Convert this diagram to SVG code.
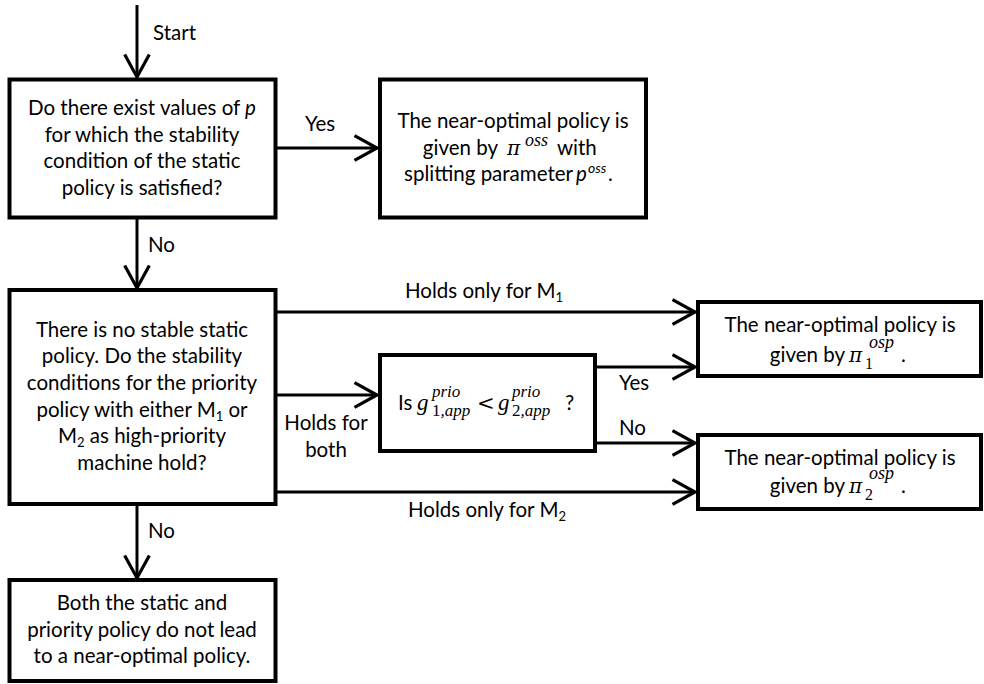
<svg xmlns="http://www.w3.org/2000/svg" width="984" height="684" viewBox="0 0 984 684">
<defs>
<style>
svg{font-family:Lato,"Open Sans","Liberation Sans",sans-serif;font-size:20.5px}
text{fill:#000}
.box{fill:#fff;stroke:#000;stroke-width:4}
.con{fill:none;stroke:#000;stroke-width:3}
.c{text-anchor:middle}
.m{font-family:"Liberation Serif","DejaVu Serif",serif;font-style:italic}
.pi{font-family:"DejaVu Serif","Liberation Serif",serif;font-style:italic;font-size:20px}
.s{font-size:13px}
</style>
<marker id="ah" markerUnits="userSpaceOnUse" markerWidth="30" markerHeight="30" viewBox="-24 -14 28 28" refX="0" refY="0" orient="auto">
<path d="M-21,-11.5 L0,0 L-21,11.5" fill="none" stroke="#000" stroke-width="3" stroke-linejoin="miter"/>
</marker>
</defs>
<rect width="984" height="684" fill="#fff"/>
<g id="connectors">
<path class="con" d="M137,5 V77" marker-end="url(#ah)"/>
<path class="con" d="M277,148 H377" marker-end="url(#ah)"/>
<path class="con" d="M137,219 V288" marker-end="url(#ah)"/>
<path class="con" d="M277,312 H695" marker-end="url(#ah)"/>
<path class="con" d="M277,395 H377" marker-end="url(#ah)"/>
<path class="con" d="M277,492 H695" marker-end="url(#ah)"/>
<path class="con" d="M597,367 H695" marker-end="url(#ah)"/>
<path class="con" d="M597,443 H695" marker-end="url(#ah)"/>
<path class="con" d="M137,506 V578" marker-end="url(#ah)"/>
<text x="153" y="40">Start</text>
<text x="305" y="131">Yes</text>
<text x="148" y="252">No</text>
<text class="c" x="484" y="298">Holds only for M<tspan class="s" dy="4">1</tspan></text>
<text class="c" x="326" y="430">Holds for</text>
<text class="c" x="326" y="457">both</text>
<text x="619" y="390">Yes</text>
<text x="619" y="435">No</text>
<text class="c" x="487" y="517">Holds only for M<tspan class="s" dy="4">2</tspan></text>
<text x="148" y="538">No</text>
</g>
<g id="n1">
<rect class="box" x="9.5" y="79.5" width="266" height="138"/>
<text class="c" x="142" y="115">Do there exist values of <tspan font-style="italic">p</tspan></text>
<text class="c" x="142" y="142">for which the stability</text>
<text class="c" x="142" y="168">condition of the static</text>
<text class="c" x="142" y="195">policy is satisfied?</text>
</g>
<g id="n2">
<rect class="box" x="380" y="79.5" width="266" height="138"/>
<text class="c" x="513" y="128">The near-optimal policy is</text>
<text x="498" y="155" text-anchor="end">given by</text>
<text class="pi" x="507" y="155">π</text>
<text class="m" x="525" y="146" font-size="18">oss</text>
<text x="557" y="155">with</text>
<text x="573" y="181" text-anchor="end">splitting parameter</text>
<text x="576" y="181" font-style="italic">p</text>
<text x="588" y="173" font-size="14" font-style="italic">oss</text>
<text x="608" y="181">.</text>
</g>
<g id="n3">
<rect class="box" x="9.5" y="290" width="266" height="214"/>
<text class="c" x="142" y="337">There is no stable static</text>
<text class="c" x="142" y="363">policy. Do the stability</text>
<text class="c" x="142" y="390">conditions for the priority</text>
<text class="c" x="142" y="417">policy with either M<tspan class="s" dy="4">1</tspan><tspan dy="-4"> or</tspan></text>
<text class="c" x="142" y="443">M<tspan class="s" dy="4">2</tspan><tspan dy="-4"> as high-priority</tspan></text>
<text class="c" x="142" y="470">machine hold?</text>
</g>
<g id="n4">
<rect class="box" x="380" y="355" width="215" height="96"/>
<text x="398" y="410">Is</text>
<text class="m" x="417" y="410" font-size="23">g</text>
<text class="m" x="432" y="397" font-size="17">prio</text>
<text class="m" x="432" y="416" font-size="17"><tspan font-style="normal">1</tspan>,app</text>
<text x="477" y="410" font-family="DejaVu Serif" font-size="21">&lt;</text>
<text class="m" x="498" y="410" font-size="23">g</text>
<text class="m" x="512" y="397" font-size="17">prio</text>
<text class="m" x="512" y="416" font-size="17"><tspan font-style="normal">2</tspan>,app</text>
<text x="565" y="410">?</text>
</g>
<g id="n5">
<rect class="box" x="698" y="302" width="283" height="74"/>
<text class="c" x="840" y="332">The near-optimal policy is</text>
<text x="845" y="362" text-anchor="end">given by</text>
<text class="pi" x="849" y="362">π</text>
<text class="m" x="869" y="348" font-size="18">osp</text>
<text x="865" y="369" font-size="16" font-family="Liberation Serif">1</text>
<text x="901" y="362">.</text>
</g>
<g id="n6">
<rect class="box" x="698" y="435" width="283" height="74"/>
<text class="c" x="840" y="465">The near-optimal policy is</text>
<text x="845" y="493" text-anchor="end">given by</text>
<text class="pi" x="849" y="493">π</text>
<text class="m" x="869" y="479" font-size="18">osp</text>
<text x="865" y="500" font-size="16" font-family="Liberation Serif">2</text>
<text x="901" y="493">.</text>
</g>
<g id="n7">
<rect class="box" x="9.5" y="580" width="266" height="101"/>
<text class="c" x="142" y="610">Both the static and</text>
<text class="c" x="142" y="637">priority policy do not lead</text>
<text class="c" x="142" y="663">to a near-optimal policy.</text>
</g>
</svg>
